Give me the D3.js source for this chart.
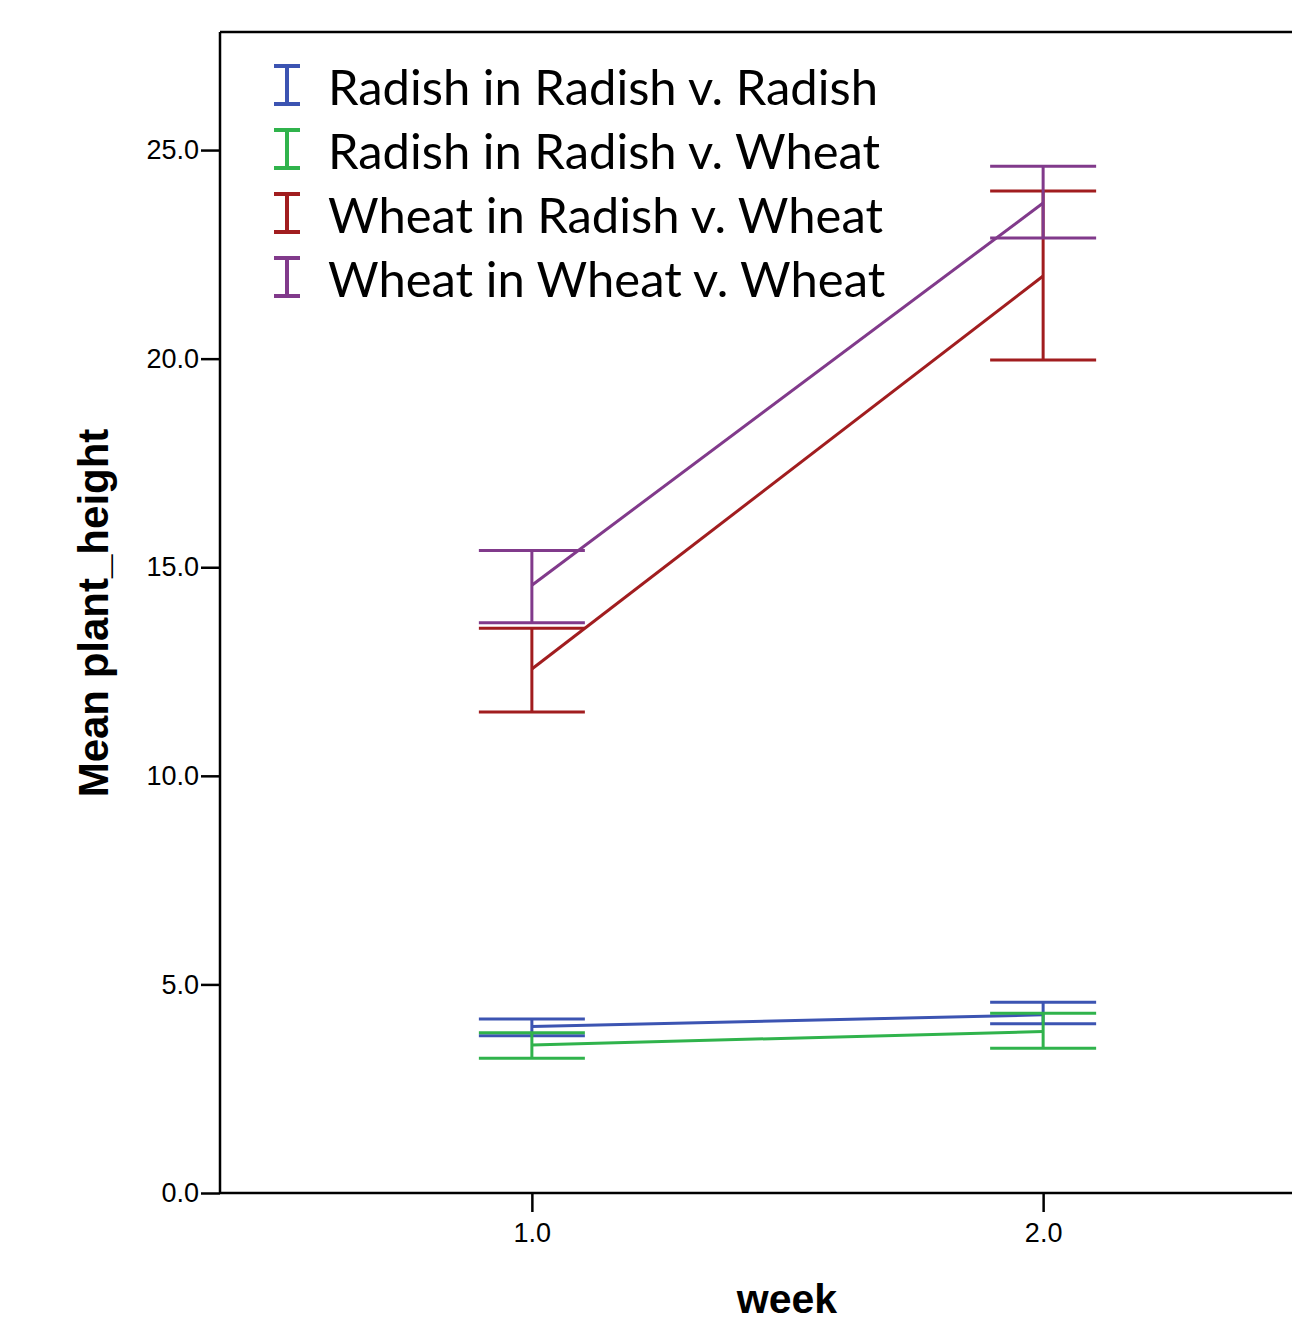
<!DOCTYPE html>
<html><head><meta charset="utf-8">
<script src="https://cdn.jsdelivr.net/npm/d3@7"></script>
<style>body{margin:0;background:#fff}svg{display:block}</style>
</head><body>
<script>
const weeks = [1, 2];
const seriesNames = ["Radish in Radish v. Radish","Radish in Radish v. Wheat","Wheat in Radish v. Wheat","Wheat in Wheat v. Wheat"];
const seriesColors = ["#3C54B2","#30B34C","#A11D1F","#813A8B"];
const meanRR = [3.99, 4.27];
const lowRR = [3.77, 4.06];
const highRR = [4.17, 4.57];
const meanRW = [3.55, 3.87];
const lowRW = [3.23, 3.47];
const highRW = [3.84, 4.31];
const meanWR = [12.56, 21.98];
const lowWR = [11.53, 19.97];
const highWR = [13.54, 24.02];
const meanWW = [14.57, 23.73];
const lowWW = [13.67, 22.89];
const highWW = [15.40, 24.61];
const yTicks = [0, 5, 10, 15, 20, 25];
const xTicks = [1, 2];

(function () {
const series = [
  {name: seriesNames[0], color: seriesColors[0], mean: meanRR, low: lowRR, high: highRR},
  {name: seriesNames[1], color: seriesColors[1], mean: meanRW, low: lowRW, high: highRW},
  {name: seriesNames[2], color: seriesColors[2], mean: meanWR, low: lowWR, high: highWR},
  {name: seriesNames[3], color: seriesColors[3], mean: meanWW, low: lowWW, high: highWW}
];

const W = 1292, H = 1322;
const svg = d3.select("body").append("svg").attr("width", W).attr("height", H);
const pl = 220, pt = 32, pb = 1193, rightExt = 1355;
const x = d3.scaleLinear().domain([0.39, 2.61]).range([pl, rightExt]);
const y = d3.scaleLinear().domain([0, 27.83]).range([pb, pt]);

svg.append("line").attr("x1", pl).attr("x2", W).attr("y1", pt).attr("y2", pt)
  .attr("stroke", "#000").attr("stroke-width", 2.5);

const yAxis = svg.append("g").attr("transform", `translate(${pl},0)`)
  .call(d3.axisLeft(y).tickValues(yTicks).tickFormat(d3.format(".1f")).tickSize(19).tickPadding(2));
yAxis.select(".domain").attr("d", `M0,${pb}V${pt}`).attr("stroke-width", 2.5);
yAxis.selectAll(".tick line").attr("stroke-width", 2.5);
yAxis.selectAll("text").attr("font-family", "Liberation Sans, Arial, sans-serif").attr("font-size", 27).attr("fill", "#000");

const xAxis = svg.append("g").attr("transform", `translate(0,${pb})`)
  .call(d3.axisBottom(x).tickValues(xTicks).tickFormat(d3.format(".1f")).tickSize(19).tickPadding(11));
xAxis.select(".domain").attr("d", `M${pl},0H${W}`).attr("stroke-width", 2.5);
xAxis.selectAll(".tick line").attr("stroke-width", 2.5);
xAxis.selectAll("text").attr("font-family", "Liberation Sans, Arial, sans-serif").attr("font-size", 27).attr("fill", "#000");

svg.append("text").attr("x", 787).attr("y", 1313).attr("text-anchor", "middle")
  .attr("font-family", "Liberation Sans, Arial, sans-serif").attr("font-weight", "bold").attr("font-size", 41)
  .text("week");
svg.append("text").attr("transform", "translate(108,613) rotate(-90)").attr("text-anchor", "middle")
  .attr("font-family", "Liberation Sans, Arial, sans-serif").attr("font-weight", "bold").attr("font-size", 42)
  .text("Mean plant_height");

const capHalf = 53;
const line = d3.line().x((d, i) => x(weeks[i])).y(d => y(d));
series.forEach(s => {
  const g = svg.append("g");
  g.append("path").attr("d", line(s.mean)).attr("fill", "none").attr("stroke", s.color).attr("stroke-width", 3);
  weeks.forEach((w, i) => {
    g.append("line").attr("x1", x(w)).attr("x2", x(w)).attr("y1", y(s.low[i])).attr("y2", y(s.high[i]))
      .attr("stroke", s.color).attr("stroke-width", 3);
    [s.low[i], s.high[i]].forEach(v => {
      g.append("line").attr("x1", x(w) - capHalf).attr("x2", x(w) + capHalf).attr("y1", y(v)).attr("y2", y(v))
        .attr("stroke", s.color).attr("stroke-width", 3);
    });
  });
});

const lg = svg.append("g");
series.forEach((s, i) => {
  const cy = 85 + i * 64;
  const g = lg.append("g");
  g.append("line").attr("x1", 287).attr("x2", 287).attr("y1", cy - 19).attr("y2", cy + 19).attr("stroke", s.color).attr("stroke-width", 4);
  g.append("line").attr("x1", 274).attr("x2", 300).attr("y1", cy - 19).attr("y2", cy - 19).attr("stroke", s.color).attr("stroke-width", 4);
  g.append("line").attr("x1", 274).attr("x2", 300).attr("y1", cy + 19).attr("y2", cy + 19).attr("stroke", s.color).attr("stroke-width", 4);
  g.append("text").attr("class", "lt").attr("x", 328).attr("y", cy + 20)
    .attr("font-family", "Lato, sans-serif").attr("font-size", 44).attr("fill", "#000").text(s.name);
});
const first = lg.select("text.lt").node();
const wv = first.getComputedTextLength();
const fs = 44 * 550 / wv;
lg.selectAll("text.lt").attr("font-size", fs);
})();
</script>
</body></html>
